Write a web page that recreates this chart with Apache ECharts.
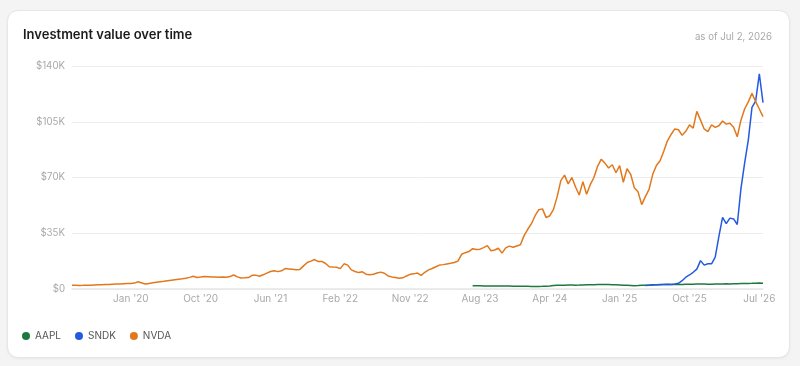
<!DOCTYPE html>
<html>
<head>
<meta charset="utf-8">
<script src="https://cdn.jsdelivr.net/npm/echarts@6/dist/echarts.min.js"></script>
<style>
  html, body { margin: 0; padding: 0; background: #f4f4f4; }
  .card {
    position: absolute; left: 7px; top: 10px; width: 781px; height: 346px;
    background: #fff; border: 1px solid #e6e6e6; border-radius: 11px;
    box-shadow: 0 1px 3px rgba(0,0,0,0.05);
  }
  #chart { position: absolute; left: 0; top: 0; width: 800px; height: 366px; }
</style>
</head>
<body>
<div class="card"></div>
<div id="chart"></div>
<script>
// biweekly points, last one is Jul 2, 2026
var pointCount = 189;
var lastDate = new Date(2026, 6, 2);

// x labels (index of the point they sit on)
var tickIdx = [16, 35, 54, 73, 92, 111, 130, 149, 168, 187];
var tickLabels = ["Jan '20", "Oct '20", "Jun '21", "Feb '22", "Nov '22", "Aug '23", "Apr '24", "Jan '25", "Oct '25", "Jul '26"];

var nvda = [
  2300, 2300, 2250, 2300, 2400, 2350, 2500, 2600, 2700, 2800,
  2900, 3000, 3100, 3200, 3300, 3400, 3500, 3700, 4500, 3800,
  3100, 3500, 3900, 4300, 4600, 4800, 5200, 5500, 5800, 6100,
  6400, 6800, 7300, 8000, 7200, 7500, 7900, 7700, 7500, 7600,
  7400, 7500, 7400, 7800, 8800, 7600, 6900, 7000, 7200, 8600,
  8700, 8000, 8900, 10000, 11000, 11500, 10900, 11400, 12800, 12600,
  12400, 12100, 12300, 14500, 16600, 17500, 18500, 17200, 17300, 16000,
  14000, 13800, 13700, 12800, 15800, 15000, 12000, 11000, 10300, 10800,
  9300, 9000, 9300, 10000, 10600, 9900, 8200, 7600, 7200, 6800,
  7000, 8200, 9200, 9500, 10000, 8600, 10500, 12000, 12900, 14000,
  15000, 15300, 15700, 16100, 16600, 17500, 21800, 22800, 23500, 25300,
  24800, 25000, 26000, 27200, 24000, 24500, 25600, 22500, 25800, 26900,
  26200, 27000, 27800, 33500, 37500, 41000, 46000, 49800, 50300, 44800,
  46000, 50000, 58000, 68000, 71500, 66000, 70000, 64000, 59000, 67400,
  59500, 65500, 70000, 77000, 81500, 79000, 76000, 78000, 73000, 77500,
  67000, 75500, 72000, 63500, 61000, 53000, 58000, 62500, 72000, 77500,
  80500, 86500, 93000, 97000, 100500, 100000, 96500, 99000, 103000, 101000,
  111500, 106000, 100500, 98800, 103000, 101500, 102500, 105500, 103500, 104000,
  101500, 95600, 106000, 113000, 117500, 122800, 117600, 113000, 108200
];

var aaplStart = 109;
var aapl = [
  2100, 2050, 2000, 1950, 1900, 1850, 1900, 1950,
  1850, 1900, 1950, 1800, 1750, 1700, 1650, 1700,
  1600, 1500, 1550, 1650, 1800, 1950, 2150, 2300,
  2400, 2350, 2450, 2500, 2400, 2450, 2550, 2600,
  2650, 2700, 2750, 2800, 2900, 2850, 2700, 2600,
  2500, 2400, 2350, 2200, 2050, 2150, 2300, 2350,
  2400, 2500, 2600, 2700, 2800, 2850, 2900, 2800,
  2850, 2900, 3000, 3050, 3000, 3100, 3150, 3100,
  3000, 3050, 3100, 3150, 3200, 3250, 3200, 3300,
  3350, 3400, 3450, 3500, 3550, 3650, 3700, 3600
];

var sndkStart = 156;
var sndk = [
  2200, 2400, 2600, 2700, 2800, 2900, 3000, 2900, 3100, 3600,
  5200, 7400, 8800, 10500, 12500, 17800, 15000, 15800, 15800, 20000,
  33000, 45000, 41000, 44500, 44000, 40500, 63000, 79000, 93500, 114000,
  118000, 135000, 117000
];

var dates = [];
for (var i = 0; i < pointCount; i++) {
  var d = new Date(lastDate.getTime() - (pointCount - 1 - i) * 14 * 86400000);
  dates.push(d.getFullYear() + '-' + (d.getMonth() + 1) + '-' + d.getDate());
}

function pad(values, start) {
  var out = [];
  for (var i = 0; i < pointCount; i++) {
    out.push(i >= start && i - start < values.length ? values[i - start] : null);
  }
  return out;
}

var chart = echarts.init(document.getElementById('chart'));
var font = 'Inter, "Noto Sans", sans-serif';

chart.setOption({
  animation: false,
  textStyle: { fontFamily: font },
  color: ['#1e7a3c', '#2459e0', '#e2781c'],
  title: [
    {
      text: 'Investment value over time',
      left: 23, top: 29, padding: 0,
      textStyle: { fontSize: 13, fontWeight: 600, color: '#1c1c1c', fontFamily: font }
    },
    {
      text: 'as of Jul 2, 2026',
      right: 28, top: 32, padding: 0,
      textStyle: { fontSize: 9.7, fontWeight: 400, color: '#a9a9a9', fontFamily: font }
    }
  ],
  legend: {
    left: 22, top: 331, padding: 0,
    icon: 'circle',
    itemWidth: 8, itemHeight: 8, itemGap: 14,
    textStyle: { fontSize: 10, color: '#555', fontFamily: font },
    data: ['AAPL', 'SNDK', 'NVDA']
  },
  grid: { left: 72, right: 37, top: 66, bottom: 77, containLabel: false },
  xAxis: {
    type: 'category',
    data: dates,
    boundaryGap: false,
    axisLine: { lineStyle: { color: '#e6e6e6', width: 1.5 } },
    axisTick: { show: false },
    splitLine: { show: false },
    axisLabel: {
      color: '#a9a9a9', fontSize: 10, margin: 5,
      interval: function (index) { return tickIdx.indexOf(index) >= 0; },
      formatter: function (value, index) {
        var k = tickIdx.indexOf(index);
        return k >= 0 ? tickLabels[k] : '';
      }
    }
  },
  yAxis: {
    type: 'value',
    min: 0, max: 140000, interval: 35000,
    axisLine: { show: false },
    axisTick: { show: false },
    splitLine: { lineStyle: { color: '#ededed', width: 1 } },
    axisLabel: {
      color: '#a9a9a9', fontSize: 9.7, margin: 7,
      formatter: function (v) { return v === 0 ? '$0' : '$' + (v / 1000) + 'K'; }
    }
  },
  series: [
    { name: 'AAPL', type: 'line', data: pad(aapl, aaplStart), showSymbol: false, lineStyle: { width: 1.5 } },
    { name: 'SNDK', type: 'line', data: pad(sndk, sndkStart), showSymbol: false, lineStyle: { width: 1.5 } },
    { name: 'NVDA', type: 'line', data: nvda, showSymbol: false, lineStyle: { width: 1.5 } }
  ]
});
</script>
</body>
</html>
